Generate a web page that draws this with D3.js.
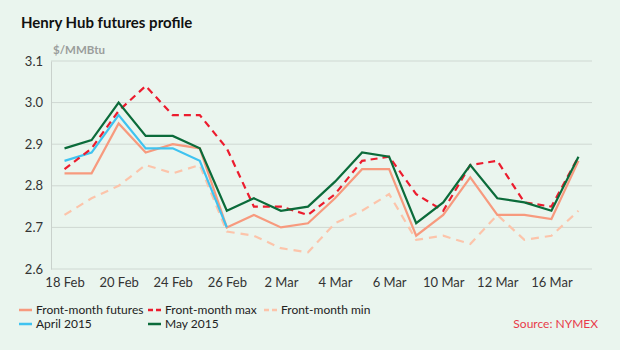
<!DOCTYPE html>
<html>
<head>
<meta charset="utf-8">
<script src="https://cdn.jsdelivr.net/npm/d3@7"></script>
<style>
  html, body { margin: 0; padding: 0; background: #eaf5ee; }
  svg { display: block; font-family: Lato, "Open Sans", sans-serif; }
</style>
</head>
<body>
<svg id="chart" width="620" height="350"></svg>
<script>
// Henry Hub front-month futures vs April/May 2015 contracts, $/MMBtu

const dates = ['18 Feb', '19 Feb', '20 Feb', '23 Feb', '24 Feb', '25 Feb', '26 Feb', '27 Feb',
               '2 Mar', '3 Mar', '4 Mar', '5 Mar', '6 Mar', '9 Mar', '10 Mar', '11 Mar',
               '12 Mar', '13 Mar', '16 Mar', '17 Mar'];
const tickLabels = ['18 Feb', '20 Feb', '24 Feb', '26 Feb', '2 Mar', '4 Mar', '6 Mar', '10 Mar', '12 Mar', '16 Mar'];
const yTicks = [2.6, 2.7, 2.8, 2.9, 3.0, 3.1];

const frontMonth = [2.83, 2.83, 2.95, 2.88, 2.90, 2.89, 2.70, 2.73, 2.70, 2.71,
                    2.77, 2.84, 2.84, 2.68, 2.73, 2.82, 2.73, 2.73, 2.72, 2.86];
const frontMax   = [2.84, 2.89, 2.98, 3.04, 2.97, 2.97, 2.89, 2.75, 2.75, 2.73,
                    2.78, 2.86, 2.87, 2.78, 2.74, 2.85, 2.86, 2.76, 2.75, 2.87];
const frontMin   = [2.73, 2.77, 2.80, 2.85, 2.83, 2.85, 2.69, 2.68, 2.65, 2.64,
                    2.71, 2.74, 2.78, 2.67, 2.68, 2.66, 2.73, 2.67, 2.68, 2.74];
const april2015  = [2.86, 2.88, 2.97, 2.89, 2.89, 2.86, 2.70];
const may2015    = [2.89, 2.91, 3.00, 2.92, 2.92, 2.89, 2.74, 2.77, 2.74, 2.75,
                    2.81, 2.88, 2.87, 2.71, 2.76, 2.85, 2.77, 2.76, 2.74, 2.87];

const series = [
    { name: 'Front-month min',     values: frontMin,   color: '#fcc4aa', dash: '8,6' },
    { name: 'Front-month futures', values: frontMonth, color: '#f79a7e', dash: null },
    { name: 'April 2015',          values: april2015,  color: '#3fc3f0', dash: null },
    { name: 'Front-month max',     values: frontMax,   color: '#ec1c2e', dash: '7,5' },
    { name: 'May 2015',            values: may2015,    color: '#0b6b3a', dash: null },
];

const legendRows = [
    ['Front-month futures', 'Front-month max', 'Front-month min'],
    ['April 2015', 'May 2015'],
];

const margin = { top: 61, right: 28, bottom: 81, left: 51 };
const width = 620, height = 350;

const svg = d3.select('#chart');

const x = d3.scalePoint()
    .domain(dates)
    .range([margin.left, width - margin.right])
    .padding(0.5);

const y = d3.scaleLinear()
    .domain([2.6, 3.1])
    .range([height - margin.bottom, margin.top]);

// Title + unit
svg.append('text')
    .attr('x', 21).attr('y', 28)
    .attr('font-size', '15px').attr('font-weight', 700).attr('fill', '#111')
    .text('Henry Hub futures profile');

svg.append('text')
    .attr('x', 53).attr('y', 54)
    .attr('font-size', '11.5px').attr('font-weight', 700).attr('fill', '#9a9d9b')
    .text('$/MMBtu');

// Gridlines
svg.append('g')
    .selectAll('line')
    .data(yTicks)
    .join('line')
    .attr('x1', margin.left).attr('x2', width - margin.right)
    .attr('y1', d => y(d)).attr('y2', d => y(d))
    .attr('stroke', '#cfd8d2').attr('stroke-width', 1);

// Y axis
svg.append('g')
    .attr('transform', `translate(${margin.left},0)`)
    .call(d3.axisLeft(y).tickValues(yTicks).tickSize(0).tickPadding(8).tickFormat(d3.format('.1f')))
    .call(g => g.select('.domain').attr('stroke', '#c9d1cc'))
    .call(g => g.selectAll('text').attr('font-size', '13px').attr('fill', '#333')
        .attr('font-family', 'Lato, "Open Sans", sans-serif'));

// X axis
svg.append('g')
    .attr('transform', `translate(0,${height - margin.bottom})`)
    .call(d3.axisBottom(x).tickValues(tickLabels).tickSize(0).tickPadding(9))
    .call(g => g.select('.domain').remove())
    .call(g => g.selectAll('text').attr('font-size', '13px').attr('fill', '#333')
        .attr('font-family', 'Lato, "Open Sans", sans-serif'));

// Lines
const line = d3.line()
    .x((d, i) => x(dates[i]))
    .y(d => y(d));

svg.append('g')
    .selectAll('path')
    .data(series)
    .join('path')
    .attr('fill', 'none')
    .attr('stroke', d => d.color)
    .attr('stroke-width', 2.2)
    .attr('stroke-dasharray', d => d.dash)
    .attr('stroke-linejoin', 'miter')
    .attr('d', d => line(d.values));

// Legend
const legendX = [19, 148, 264];
const legendY = [310, 324];
const byName = new Map(series.map(s => [s.name, s]));

legendRows.forEach((row, r) => {
    row.forEach((name, c) => {
        const s = byName.get(name);
        const g = svg.append('g').attr('transform', `translate(${legendX[c]},${legendY[r]})`);
        g.append('line')
            .attr('x1', 0).attr('x2', 13).attr('y1', 0).attr('y2', 0)
            .attr('stroke', s.color).attr('stroke-width', 2.5)
            .attr('stroke-dasharray', s.dash ? '5,3' : null);
        g.append('text')
            .attr('x', 17).attr('y', 0).attr('dy', '0.35em')
            .attr('font-size', '12px').attr('fill', '#222')
            .text(name);
    });
});

// Source
svg.append('text')
    .attr('x', 598).attr('y', 324).attr('dy', '0.35em')
    .attr('text-anchor', 'end')
    .attr('font-size', '12px').attr('fill', '#e83a4a')
    .text('Source: NYMEX');
</script>
</body>
</html>
